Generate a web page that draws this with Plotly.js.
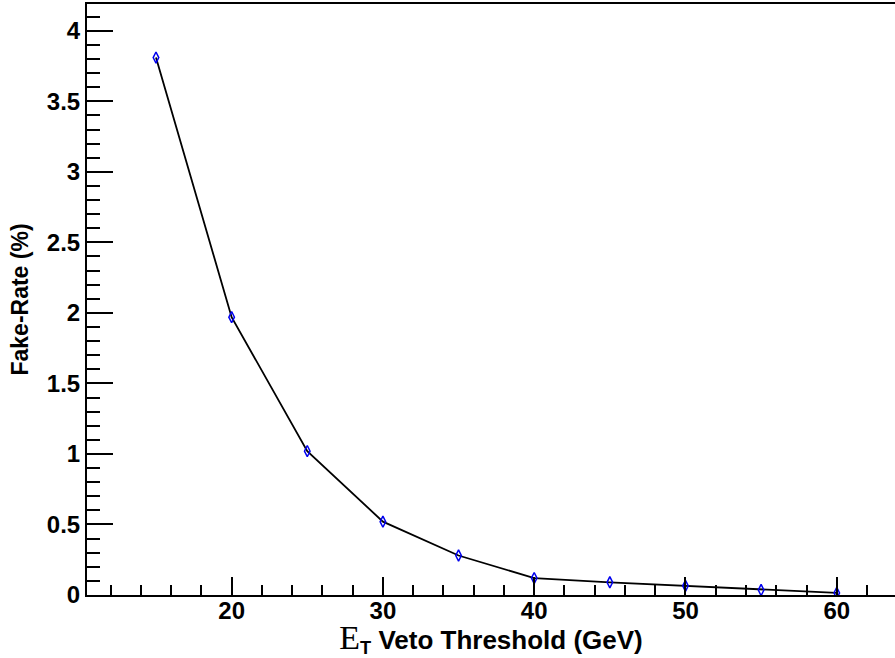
<!DOCTYPE html>
<html>
<head>
<meta charset="utf-8">
<script src="https://cdn.plot.ly/plotly-3.0.1.min.js"></script>
<style>html,body{margin:0;padding:0;background:#fff;}#chart{width:895px;height:658px;}</style>
</head>
<body>
<div id="chart"></div>
<script>
// Data
const thresholds = [15, 20, 25, 30, 35, 40, 45, 50, 55, 60];
const fakeRate = [3.81, 1.97, 1.02, 0.52, 0.28, 0.12, 0.09, 0.065, 0.035, 0.015];

const xTitle = '<span style="font-family:\'Liberation Serif\',serif;font-weight:normal;font-size:34px">E</span><sub>T</sub> Veto Threshold (GeV)';
const yTitle = 'Fake-Rate (%)';

const trace = {
  x: thresholds,
  y: fakeRate,
  type: 'scatter',
  mode: 'lines+markers',
  line: {color: '#000000', width: 1.8},
  marker: {symbol: 'diamond-tall-open', size: 8, color: '#0000ee', line: {color: '#0000ee', width: 1.5}},
  hoverinfo: 'x+y'
};

const fontFam = '"Liberation Sans", Arial, sans-serif';

const layout = {
  width: 895, height: 658,
  margin: {l: 87, r: 0, t: 4, b: 63, pad: 0},
  paper_bgcolor: '#ffffff', plot_bgcolor: '#ffffff',
  showlegend: false,
  font: {family: fontFam, color: '#000', size: 24, weight: 'bold'},
  xaxis: {
    range: [10.44, 63.85],
    showgrid: false, zeroline: false,
    showline: true, linecolor: '#000', linewidth: 2, mirror: true,
    ticks: 'inside', ticklen: 18, tickwidth: 1.5, tickcolor: '#000',
    tick0: 0, dtick: 10,
    minor: {ticks: 'inside', dtick: 2, ticklen: 10, tickwidth: 1.5, tickcolor: '#000', showgrid: false},
    tickfont: {family: fontFam, size: 24, weight: 'bold', color: '#000'},
    ticklabelstandoff: -7,
    title: {text: xTitle, font: {family: fontFam, size: 26, weight: 'bold', color: '#000'}, standoff: 2}
  },
  yaxis: {
    range: [0, 4.19],
    showgrid: false, zeroline: false,
    showline: true, linecolor: '#000', linewidth: 2,
    ticks: 'inside', ticklen: 26, tickwidth: 1.5, tickcolor: '#000',
    tick0: 0, dtick: 0.5,
    minor: {ticks: 'inside', dtick: 0.1, ticklen: 13, tickwidth: 1.5, tickcolor: '#000', showgrid: false},
    tickfont: {family: fontFam, size: 24, weight: 'bold', color: '#000'},
    ticklabelstandoff: 0,
    title: {text: yTitle, font: {family: fontFam, size: 23, weight: 'bold', color: '#000'}, standoff: 12}
  }
};

Plotly.newPlot('chart', [trace], layout, {displayModeBar: false});
</script>
</body>
</html>
